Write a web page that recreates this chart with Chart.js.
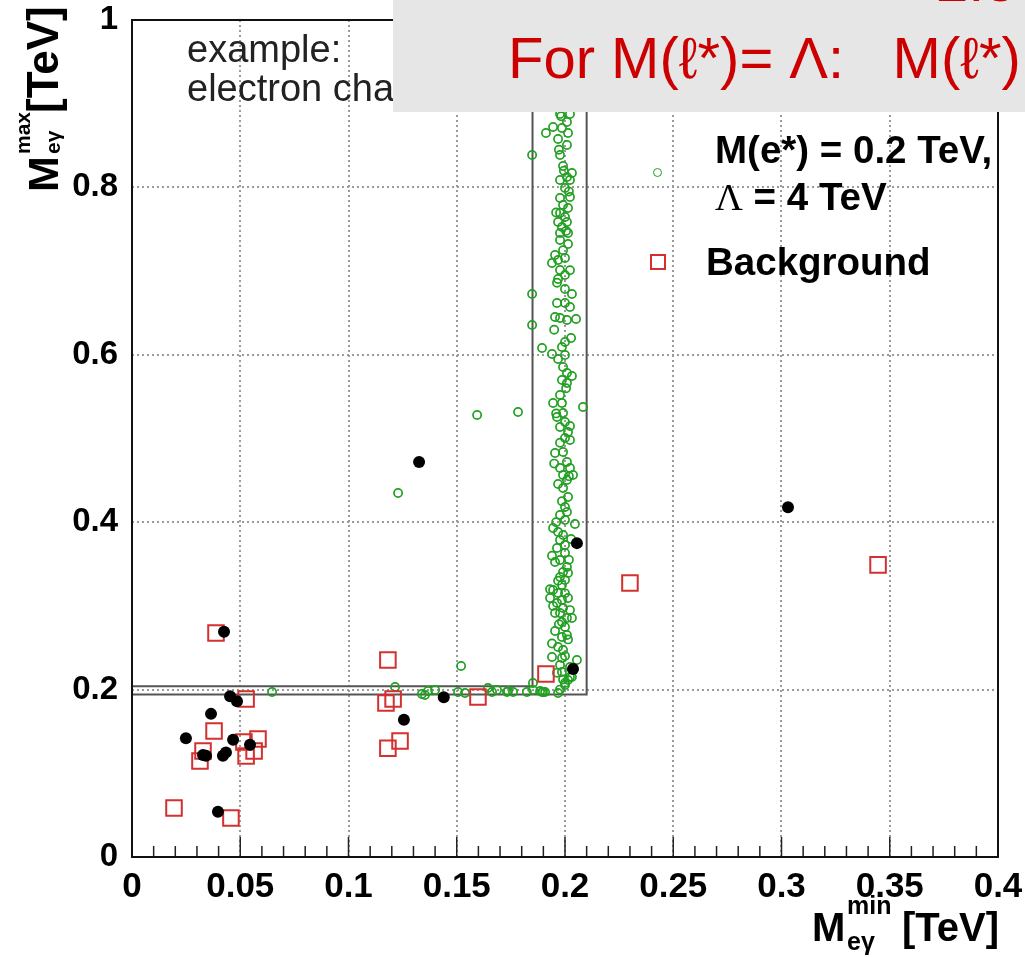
<!DOCTYPE html>
<html><head><meta charset="utf-8">
<script src="https://cdn.jsdelivr.net/npm/chart.js@4.4.1/dist/chart.umd.min.js"></script>
<style>
html,body{margin:0;padding:0;background:#fff;}
#wrap{position:relative;width:1025px;height:957px;overflow:hidden;font-family:'Liberation Sans',Arial,sans-serif;}
#c{position:absolute;left:0;top:0;}
.t{position:absolute;white-space:pre;line-height:1;}
.b{font-weight:bold;color:#000;}
#box{position:absolute;left:393px;top:0;width:632px;height:112px;background:#e6e6e6;z-index:5;}
.red{color:#cc0000;font-size:58px;z-index:6;}
#ytitle{position:absolute;left:22px;top:192px;width:0;height:0;transform-origin:0 0;transform:rotate(-90deg);}
</style></head>
<body>
<div id="wrap">
<canvas id="c" width="1025" height="957"></canvas>
<div class="t" style="left:187px;top:30px;font-size:38px;line-height:39px;color:#222;z-index:2;">example:
electron channel</div>
<div id="box"></div>
<div class="t red" style="left:936px;top:-48px;">2.5 TeV</div>
<div class="t red" style="left:508px;top:29px;">For M(ℓ*)= Λ:   M(ℓ*)</div>

<div style="position:absolute;left:653px;top:168px;width:7px;height:7px;border:1.6px solid #22a022;border-radius:50%;"></div>
<div class="t b" style="left:715px;top:131px;font-size:38.5px;">M(e*) = 0.2 TeV,</div>
<div class="t b" style="left:715px;top:178px;font-size:38.5px;"><span style="font-family:'Liberation Serif',serif;font-weight:normal;">Λ</span> = 4 TeV</div>
<div style="position:absolute;left:650px;top:254px;width:12px;height:12px;border:2px solid #d43030;"></div>
<div class="t b" style="left:706px;top:243px;font-size:38.5px;">Background</div>

<div class="t b" style="left:812px;top:907px;font-size:40px;">M</div>
<div class="t b" style="left:847px;top:893px;font-size:25px;">min</div>
<div class="t b" style="left:847px;top:929px;font-size:25px;">eγ</div>
<div class="t b" style="left:902px;top:907px;font-size:40px;">[TeV]</div>

<div id="ytitle">
<div class="t b" style="left:0;top:0;font-size:43px;">M</div>
<div class="t b" style="left:38px;top:-10px;font-size:21px;">max</div>
<div class="t b" style="left:38px;top:20px;font-size:21px;">eγ</div>
<div class="t b" style="left:79px;top:-1px;font-size:44px;">[TeV]</div>
</div>
</div>
<script>
// Axis ticks
const xTicks = [0, 0.05, 0.1, 0.15, 0.2, 0.25, 0.3, 0.35, 0.4];
const xTickLabels = ['0', '0.05', '0.1', '0.15', '0.2', '0.25', '0.3', '0.35', '0.4'];
const yTicks = [0, 0.2, 0.4, 0.6, 0.8, 1];
const yTickLabels = ['0', '0.2', '0.4', '0.6', '0.8', '1'];
const xMinorCount = 40; // minor ticks every 0.01 TeV

// Data (black dots): [Mmin, Mmax] in TeV
const dataPoints = [
  [0.1326, 0.472], [0.303, 0.418], [0.2055, 0.375], [0.0425, 0.269], [0.2037, 0.2246],
  [0.0453, 0.192], [0.0485, 0.186], [0.0365, 0.171], [0.0249, 0.142], [0.0467, 0.140],
  [0.0545, 0.134], [0.0328, 0.122], [0.0342, 0.121], [0.042, 0.121], [0.0434, 0.125],
  [0.1256, 0.164], [0.144, 0.191], [0.0397, 0.054]
];

// Background (red squares)
const backgroundPoints = [
  [0.0388, 0.2676], [0.0527, 0.1888], [0.0379, 0.1505], [0.0328, 0.1266], [0.0314, 0.1147],
  [0.0582, 0.141], [0.0564, 0.1266], [0.0517, 0.1374], [0.0527, 0.1207], [0.0194, 0.0585],
  [0.0457, 0.0466], [0.1182, 0.2354], [0.1173, 0.184], [0.1206, 0.1888], [0.1182, 0.130],
  [0.1238, 0.1386], [0.1598, 0.1912], [0.1912, 0.2186], [0.230, 0.3274], [0.3446, 0.349]
];

// Signal M(e*)=0.2 TeV, Lambda=4 TeV (green circles)
const signalPoints = [
  [0.1977,0.8877],[0.2023,0.8877],[0.2009,0.8781],[0.1945,0.8722],[0.1986,0.8710],[0.1912,0.8650],
  [0.1968,0.8578],[0.2009,0.8507],[0.1848,0.8387],[0.1977,0.8387],[0.1991,0.8256],[0.2032,0.8172],
  [0.2009,0.8124],[0.1977,0.8088],[0.2023,0.8088],[0.2000,0.7993],[0.1977,0.7873],[0.2023,0.7885],
  [0.1991,0.7790],[0.2014,0.7754],[0.1977,0.7694],[0.2000,0.7646],[0.1968,0.7587],[0.2009,0.7587],
  [0.1986,0.7527],[0.1977,0.7455],[0.2014,0.7455],[0.1977,0.7372],[0.2014,0.7324],[0.1954,0.7192],
  [0.1940,0.7097],[0.1968,0.7133],[0.2000,0.7157],[0.1977,0.7013],[0.2000,0.6953],[0.1968,0.6906],
  [0.2000,0.6786],[0.1848,0.6726],[0.2032,0.6726],[0.1963,0.6619],[0.2000,0.6619],[0.2023,0.6571],
  [0.1954,0.6452],[0.1977,0.6440],[0.2009,0.6416],[0.2051,0.6428],[0.1848,0.6356],[0.2000,0.6153],
  [0.1986,0.6093],[0.1894,0.6081],[0.1940,0.6010],[0.2000,0.5998],[0.1991,0.5854],[0.2009,0.5783],
  [0.2032,0.5747],[0.1986,0.5699],[0.2009,0.5663],[0.1977,0.5520],[0.1945,0.5424],[0.1986,0.5424],
  [0.2083,0.5376],[0.1783,0.5317],[0.1991,0.5305],[0.1963,0.5257],[0.2000,0.5197],[0.1977,0.5137],
  [0.2014,0.5078],[0.2000,0.5006],[0.2023,0.4982],[0.1954,0.4827],[0.1991,0.4839],[0.2009,0.4719],
  [0.1977,0.4648],[0.2023,0.4648],[0.1991,0.4564],[0.2037,0.4564],[0.2009,0.4504],[0.1968,0.4456],
  [0.1991,0.4409],[0.2014,0.4301],[0.2000,0.4182],[0.2009,0.4122],[0.1977,0.4086],[0.2000,0.4026],
  [0.2046,0.3978],[0.1945,0.3931],[0.1968,0.3883],[0.1991,0.3847],[0.1977,0.3787],[0.2000,0.3728],
  [0.1963,0.3692],[0.2000,0.3632],[0.1977,0.3548],[0.1954,0.3524],[0.2009,0.3465],[0.1991,0.3405],
  [0.2014,0.3393],[0.1977,0.3345],[0.2000,0.3309],[0.1986,0.3250],[0.1945,0.3190],[0.1968,0.3154],
  [0.1931,0.3094],[0.1986,0.3070],[0.2014,0.3094],[0.1963,0.3035],[0.1991,0.2975],[0.1954,0.2915],
  [0.1977,0.2915],[0.2009,0.2855],[0.2032,0.2855],[0.1986,0.2808],[0.2000,0.2748],[0.1986,0.2628],
  [0.2009,0.2652],[0.1968,0.2509],[0.1991,0.2473],[0.1940,0.2389],[0.1986,0.2378],[0.2055,0.2354],
  [0.1977,0.2294],[0.2023,0.2270],[0.2032,0.2151],[0.2000,0.2079],[0.1852,0.2079],[0.1968,0.1959],
  [0.1894,0.1971],[0.1760,0.1971],[0.1732,0.1971],[0.1824,0.1971],[0.1852,0.1995],
  [0.1594,0.5281],[0.1229,0.4349],[0.1520,0.2282],[0.1215,0.2031],[0.0647,0.1971],[0.1339,0.1947],
  [0.1353,0.1935],[0.1367,0.1983],[0.1400,0.1995],[0.1506,0.1971],[0.1538,0.1959],[0.1644,0.2019],
  [0.1663,0.1971],[0.1686,0.1995],[0.1737,0.1983],[0.1885,0.1983],[0.1898,0.1971],[0.2000,0.2055],
  [0.2023,0.2151],[0.1986,0.2210],[0.2014,0.2115],[0.1908,0.1971],
  [0.1963,0.6860],[0.2023,0.7010],[0.1991,0.7250],[0.2005,0.7480],[0.1959,0.7700],[0.2018,0.7950],
  [0.1995,0.8200],[0.1972,0.8450],[0.2014,0.8650],[0.1982,0.8850],[0.1950,0.6300],[0.2028,0.6200],
  [0.1968,0.5950],[0.2005,0.5600],[0.1959,0.5300],[0.2023,0.5150],[0.1977,0.4950],[0.1950,0.4700],
  [0.2018,0.4550],[0.1986,0.4250],[0.1959,0.4000],[0.2028,0.3800],[0.1940,0.3600],[0.2018,0.3550],
  [0.1968,0.3300],[0.1931,0.3200],[0.2000,0.3150],[0.1945,0.3000],[0.2023,0.2950],[0.1972,0.2780],
  [0.1954,0.2700],[0.2014,0.2600],[0.1940,0.2550],[0.2000,0.2400],[0.1963,0.2200],[0.1991,0.2120],
  [0.1977,0.2000]
];

// L-shaped selection window boundaries
const windowInner = [[0, 0.204], [0.185, 0.204], [0.185, 1.0]];
const windowOuter = [[0, 0.194], [0.21, 0.194], [0.21, 1.0]];

const toXY = arr => arr.map(p => ({x: p[0], y: p[1]}));

const framePlugin = {
  id: 'frame',
  beforeDatasetsDraw(chart) {
    const {ctx, chartArea: a, scales: {x}} = chart;
    ctx.save();
    ctx.strokeStyle = '#222';
    ctx.lineWidth = 1.5;
    ctx.beginPath();
    for (let i = 0; i <= xMinorCount; i++) {
      const v = i * (xTicks[xTicks.length - 1] / xMinorCount);
      const px = x.getPixelForValue(v);
      const len = (i % 5 === 0) ? 20 : 11;
      ctx.moveTo(px, a.bottom);
      ctx.lineTo(px, a.bottom - len);
    }
    ctx.stroke();
    ctx.restore();
  },
  afterDraw(chart) {
    const {ctx, chartArea: a} = chart;
    ctx.save();
    ctx.strokeStyle = '#111';
    ctx.lineWidth = 2;
    ctx.strokeRect(a.left, a.top, a.right - a.left, a.bottom - a.top);
    ctx.restore();
  }
};

const xTickFont = {family: "'Liberation Sans', Arial, sans-serif", size: 35, weight: 'bold', lineHeight: 1};
const yTickFont = {family: "'Liberation Sans', Arial, sans-serif", size: 33, weight: 'bold', lineHeight: 1};

new Chart(document.getElementById('c'), {
  type: 'scatter',
  data: {
    datasets: [
      {label: 'Data', data: toXY(dataPoints), pointStyle: 'circle', pointRadius: 6,
       backgroundColor: '#000', borderWidth: 0},
      {label: 'Background', data: toXY(backgroundPoints), pointStyle: 'rect', pointRadius: 11,
       backgroundColor: 'rgba(0,0,0,0)', borderColor: '#d43030', borderWidth: 2},
      {label: 'Signal', data: toXY(signalPoints), pointStyle: 'circle', pointRadius: 4.1,
       backgroundColor: 'rgba(0,0,0,0)', borderColor: '#22a022', borderWidth: 1.7},
      {label: 'win1', type: 'line', data: toXY(windowInner), showLine: true, pointRadius: 0,
       borderColor: '#555', borderWidth: 2, fill: false, tension: 0},
      {label: 'win2', type: 'line', data: toXY(windowOuter), showLine: true, pointRadius: 0,
       borderColor: '#555', borderWidth: 2, fill: false, tension: 0}
    ]
  },
  options: {
    responsive: false,
    animation: false,
    events: [],
    devicePixelRatio: 1,
    layout: {padding: {top: 20, right: 27, left: 0, bottom: 0}},
    plugins: {legend: {display: false}, tooltip: {enabled: false}},
    scales: {
      x: {
        type: 'linear', min: 0, max: 0.4,
        afterFit: s => { s.height = 100; s.paddingLeft = 0; s.paddingRight = 0; },
        afterBuildTicks: s => { s.ticks = xTicks.map(v => ({value: v})); },
        ticks: {padding: 13, color: '#000', font: xTickFont, maxRotation: 0, autoSkip: false,
                callback: (v, i) => xTickLabels[i]},
        grid: {color: '#9a9a9a', lineWidth: 2, drawTicks: false},
        border: {display: false, dash: [2, 3]}
      },
      y: {
        type: 'linear', min: 0, max: 1,
        afterFit: s => { s.width = 132; s.paddingTop = 0; s.paddingBottom = 0; },
        afterBuildTicks: s => { s.ticks = yTicks.map(v => ({value: v})); },
        ticks: {padding: 14, color: '#000', font: yTickFont, autoSkip: false,
                callback: (v, i) => yTickLabels[i]},
        grid: {color: '#9a9a9a', lineWidth: 2, drawTicks: false},
        border: {display: false, dash: [2, 3]}
      }
    }
  },
  plugins: [framePlugin]
});
</script>
</body></html>
